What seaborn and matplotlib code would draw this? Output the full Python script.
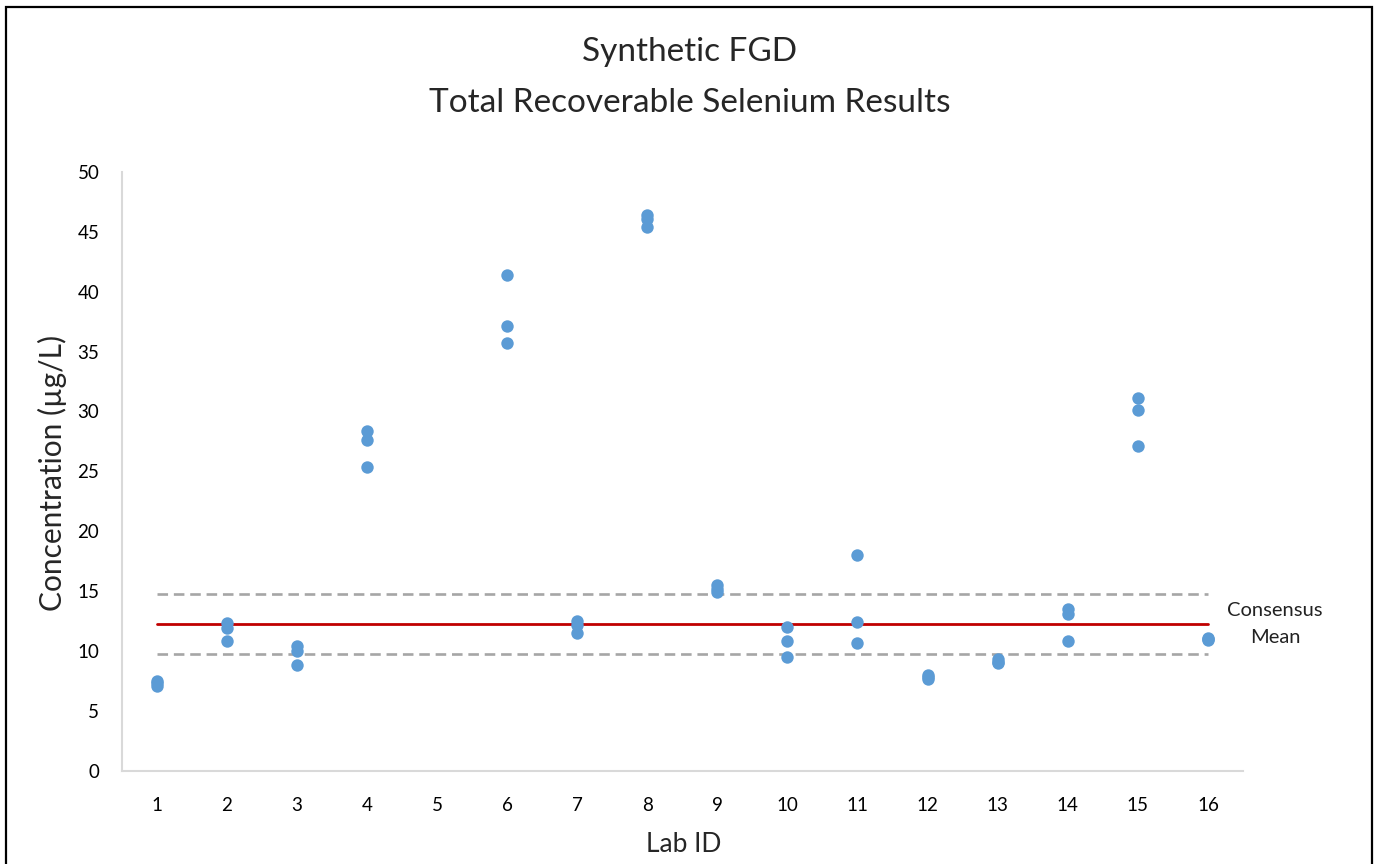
import numpy as np
import pandas as pd
import matplotlib
matplotlib.use("Agg")
import matplotlib.pyplot as plt
from matplotlib.patches import Rectangle
import seaborn as sns

# ---- data ----
lab_ids = list(range(1, 17))
lab1 = [7.5, 7.3, 7.1]
lab2 = [12.3, 11.9, 10.8]
lab3 = [10.4, 10.0, 8.8]
lab4 = [28.4, 27.6, 25.4]
lab5 = []
lab6 = [41.4, 37.1, 35.7]
lab7 = [12.5, 12.2, 11.5]
lab8 = [46.4, 46.1, 45.4]
lab9 = [15.5, 15.2, 14.9]
lab10 = [12.0, 10.8, 9.5]
lab11 = [18.0, 12.4, 10.7]
lab12 = [8.0, 7.8, 7.7]
lab13 = [9.3, 9.1, 9.0]
lab14 = [13.5, 13.1, 10.8]
lab15 = [31.1, 30.1, 27.1]
lab16 = [11.1, 11.0, 10.9]
consensus_mean = 12.25
upper_limit = 14.75
lower_limit = 9.75
y_ticks = [0, 5, 10, 15, 20, 25, 30, 35, 40, 45, 50]

results = [lab1, lab2, lab3, lab4, lab5, lab6, lab7, lab8,
           lab9, lab10, lab11, lab12, lab13, lab14, lab15, lab16]
rows = [(lab, v) for lab, vals in zip(lab_ids, results) for v in vals]
df = pd.DataFrame(rows, columns=["Lab", "Conc"])

sns.set_theme(style="white")
plt.rcParams['font.family'] = ['Lato', 'DejaVu Sans']

fig = plt.figure(figsize=(13.8, 8.64), dpi=100)
ax = fig.add_axes([121.5/1380, 93.3/864, (1243-121.5)/1380, (770.7-172)/864])

blue = "#5B9BD5"
red = "#C00000"
grey = "#A6A6A6"

ax.plot([1, 16], [upper_limit, upper_limit], color=grey, lw=1.9, dashes=(4, 2.2), zorder=1)
ax.plot([1, 16], [lower_limit, lower_limit], color=grey, lw=1.9, dashes=(4, 2.2), zorder=1)
ax.plot([1, 16], [consensus_mean, consensus_mean], color=red, lw=2.0, zorder=2)

sns.scatterplot(data=df, x="Lab", y="Conc", ax=ax, color=blue, s=80,
                linewidth=0, zorder=3, legend=False)

ax.set_xlim(0.5, 16.5)
ax.set_ylim(0, 50)
ax.set_xticks(lab_ids)
ax.set_xticklabels([str(i) for i in lab_ids])
ax.set_yticks(y_ticks)
ax.set_yticklabels([str(t) for t in y_ticks])
ax.tick_params(axis='both', labelsize=13.5, colors="#000000", length=0)
ax.tick_params(axis='x', pad=19)
ax.tick_params(axis='y', pad=16)

for side in ["top", "right"]:
    ax.spines[side].set_visible(False)
for side in ["left", "bottom"]:
    ax.spines[side].set_color("#D9D9D9")
    ax.spines[side].set_linewidth(1.5)

ax.set_xlabel("Lab ID", fontsize=19)
ax.set_ylabel("Concentration (µg/L)", fontsize=21.5)
ax.xaxis.set_label_coords(683.5/1380, 1 - 845/864, transform=fig.transFigure)
ax.yaxis.set_label_coords(52/1380, 1 - 473/864, transform=fig.transFigure)
ax.xaxis.label.set_va("center")
ax.yaxis.label.set_va("center")

ax.text(16.96, consensus_mean, "Consensus\nMean", ha="center", va="center",
        fontsize=14.5, linespacing=1.7, clip_on=False, color="#222222")

fig.text(690/1380, 1 - 52/864, "Synthetic FGD", ha="center", va="center", fontsize=24)
fig.text(690/1380, 1 - 103/864, "Total Recoverable Selenium Results", ha="center", va="center", fontsize=24)

fig.add_artist(Rectangle((6/1380, -0.05), (1372-6)/1380, 1.05 - 7/864,
                         transform=fig.transFigure, fill=False, edgecolor="black",
                         linewidth=1.6, clip_on=False))

fig.savefig("out.png", dpi=100)
